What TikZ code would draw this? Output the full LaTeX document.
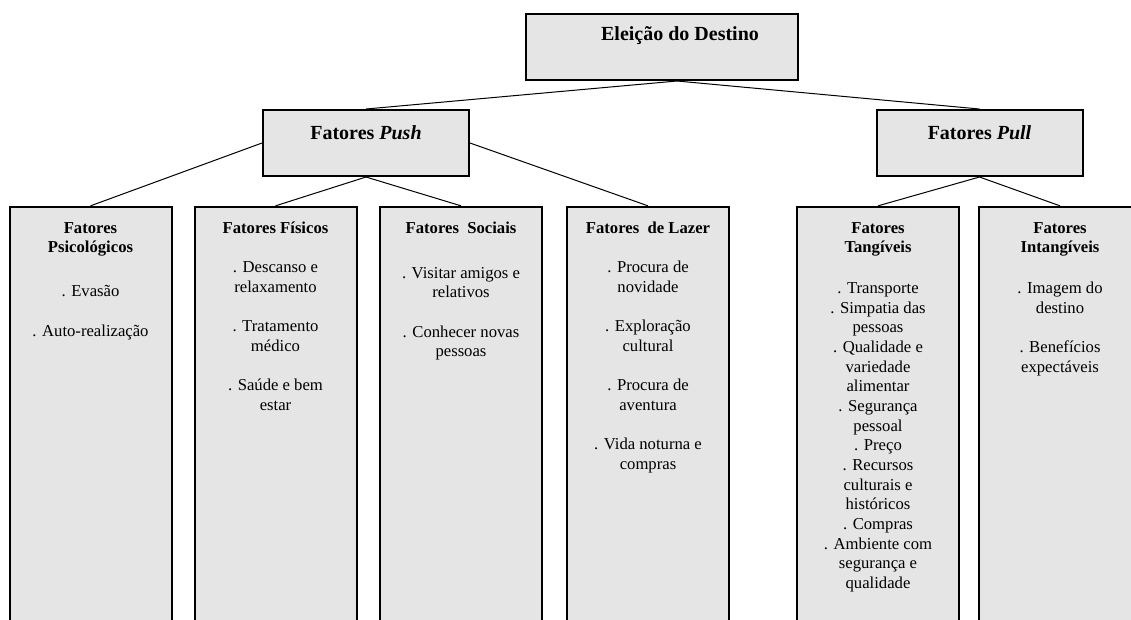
\documentclass[tikz,border=0pt]{standalone}
\usepackage{fontspec}
\setmainfont{Liberation Serif}
\usepackage{tikz}
\usetikzlibrary{shapes}
\usetikzlibrary{positioning}
\usetikzlibrary{calc}
\tikzstyle{caixa}=[
        rectangle,
        draw,
        line width=1.2pt,
        fill=black!10,
        inner sep=0pt
]
\tikzstyle{topo}=[caixa,minimum width=123.6pt,minimum height=39.6pt]
\tikzstyle{coluna}=[caixa,minimum width=97.2pt,minimum height=260pt]
\tikzstyle{titulo}=[font=\bfseries\fontsize{12}{14}\selectfont,anchor=base,inner sep=0pt]
\tikzstyle{lista}=[font=\fontsize{10}{11.8}\selectfont,align=center,anchor=north,inner sep=0pt]
\tikzstyle{liga}=[line width=0.6pt]

\begin{document}
\begin{tikzpicture}[x=0.6pt,y=-0.6pt]
\useasboundingbox (0,0) rectangle (1131,619);
\clip (0,0) rectangle (1131,619);
\node[caixa,minimum width=163.2pt,minimum height=39.6pt] (eleicao) at (662,47) {};
\node[topo] (push) at (366,143) {};
\node[topo] (pull) at (979.5,143) {};
\node[coluna] (psico) at (90.5,423.5) {};
\node[coluna] (fisicos) at (275.5,423.5) {};
\node[coluna] (sociais) at (461,423.5) {};
\node[coluna] (lazer) at (648,423.5) {};
\node[coluna] (tang) at (878,423.5) {};
\node[coluna] (intang) at (1060,423.5) {};
%textos
\node[titulo] (eleicaoT) at ([xshift=10.8pt,yshift=-16.6pt]eleicao.north) {Eleição do Destino};
\node[titulo] (pushT) at ([yshift=-18pt]push.north) {Fatores \textit{Push}};
\node[titulo] (pullT) at ([yshift=-18pt]pull.north) {Fatores \textit{Pull}};
\node[lista] (psicoT) at ([yshift=-7.9pt]psico.north) {\strut\textbf{Fatores}\\\textbf{Psicológicos}\\[14.6pt]. Evasão\\[11.8pt]. Auto-realização};
\node[lista] (fisicosT) at ([yshift=-7.9pt]fisicos.north) {\strut\textbf{Fatores Físicos}\\[11.8pt]. Descanso e\\relaxamento\\[11.8pt]. Tratamento\\médico\\[11.8pt]. Saúde e bem\\estar};
\node[lista] (sociaisT) at ([yshift=-7.9pt]sociais.north) {\strut\textbf{Fatores~ Sociais}\\[15.2pt]. Visitar amigos e\\relativos\\[11.8pt]. Conhecer novas\\pessoas};
\node[lista] (lazerT) at ([yshift=-7.9pt]lazer.north) {\strut\textbf{Fatores~ de Lazer}\\[11.8pt]. Procura de\\novidade\\[11.8pt]. Exploração\\cultural\\[11.8pt]. Procura de\\aventura\\[11.8pt]. Vida noturna e\\compras};
\node[lista] (tangT) at ([yshift=-7.9pt]tang.north) {\strut\textbf{Fatores}\\\textbf{Tangíveis}\\[12.6pt]. Transporte\\. Simpatia das\\pessoas\\. Qualidade e\\variedade\\alimentar\\. Segurança\\pessoal\\. Preço\\. Recursos\\culturais e\\históricos\\. Compras\\. Ambiente com\\segurança e\\qualidade};
\node[lista] (intangT) at ([yshift=-7.9pt]intang.north) {\strut\textbf{Fatores}\\\textbf{Intangíveis}\\[12.6pt]. Imagem do\\destino\\[11.8pt]. Benefícios\\expectáveis};
%ligacoes
\draw[liga] ([xshift=9pt]eleicao.south) -- (push.north);
\draw[liga] ([xshift=9pt]eleicao.south) -- (pull.north);
\draw[liga] (push.west) -- (psico.north);
\draw[liga] (push.south) -- (fisicos.north);
\draw[liga] (push.south) -- (sociais.north);
\draw[liga] (push.east) -- (lazer.north);
\draw[liga] (pull.south) -- (tang.north);
\draw[liga] (pull.south) -- (intang.north);
\end{tikzpicture}
\end{document}
